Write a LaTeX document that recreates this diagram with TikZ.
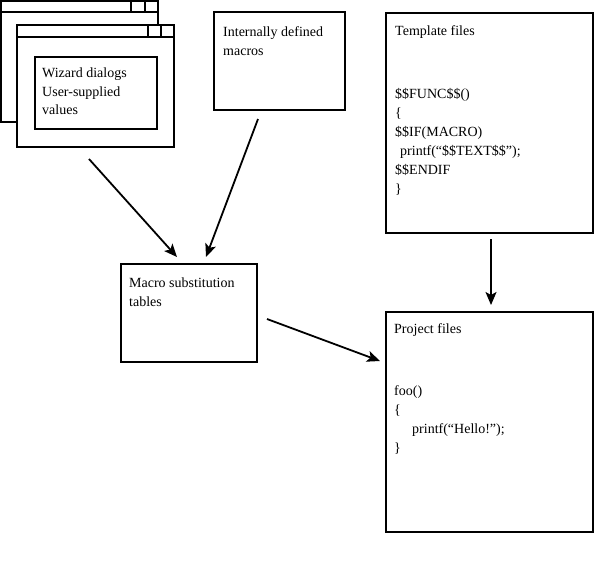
\documentclass[tikz,border=0pt]{standalone}
\usepackage{fontspec}
\setmainfont{Liberation Serif}
\usetikzlibrary{arrows.meta}
\begin{document}
\begin{tikzpicture}[x=1pt,y=-1pt,
  box/.style={draw,line width=2pt,fill=white},
  thinline/.style={line width=1.2pt},
  txt/.style={anchor=north west,inner sep=0pt,align=left,yshift=13.3pt,font=\fontsize{14}{19}\selectfont},
  arr/.style={line width=1.8pt,-{Stealth[length=13pt,width=11pt,inset=3pt]}}]
\useasboundingbox (0,0) rectangle (596,581);
% back window
\draw[box] (1,1) rectangle (158,122);
\draw[thinline] (1,12) -- (158,12) (131,1) -- (131,12) (145,1) -- (145,12);
% front window
\draw[box] (17,25) rectangle (174,147);
\draw[thinline] (17,37) -- (174,37) (148,25) -- (148,37) (161,25) -- (161,37);
\node[box,minimum width=122pt,minimum height=72pt,inner sep=0pt] (wiz) at (96,93) {};
\node[txt,font=\fontsize{14}{18.5}\selectfont] (wizt) at (42,78) {\strut Wizard dialogs\\User-supplied\\values};
% internally defined macros
\node[box,minimum width=131pt,minimum height=98pt,inner sep=0pt] (imd) at (279.5,61) {};
\node[txt] (imdt) at (223,36) {\strut Internally defined\\macros};
% macro substitution tables
\node[box,minimum width=136pt,minimum height=98pt,inner sep=0pt] (mst) at (189,313) {};
\node[txt] (mstt) at (129,287) {\strut Macro substitution\\tables};
% template files
\node[box,minimum width=207pt,minimum height=220pt,inner sep=0pt] (tpl) at (489.5,123) {};
\node[txt] (tplh) at (395,35) {\strut Template files};
\node[txt] (tplc) at (395,98) {\strut\$\$FUNC\$\$()\\\{\\\$\$IF(MACRO)\\\hspace*{5pt}printf(“\$\$TEXT\$\$”);\\\$\$ENDIF\\\}};
% project files
\node[box,minimum width=207pt,minimum height=220pt,inner sep=0pt] (prj) at (489.5,422) {};
\node[txt] (prjh) at (394,333) {\strut Project files};
\node[txt] (prjc) at (394,395) {\strut foo()\\\{\\\hspace*{18pt}printf(“Hello!”);\\\}};
% connectors
\coordinate (a1s) at (89,159); \coordinate (a1e) at (177,257);
\coordinate (a2s) at (258,119); \coordinate (a2e) at (206,257);
\coordinate (a3s) at (267,319); \coordinate (a3e) at (380,361);
\coordinate (a4s) at (491,239); \coordinate (a4e) at (491,305);
\draw[arr] (a1s) -- (a1e);
\draw[arr] (a2s) -- (a2e);
\draw[arr] (a3s) -- (a3e);
\draw[arr] (a4s) -- (a4e);
\end{tikzpicture}
\end{document}
